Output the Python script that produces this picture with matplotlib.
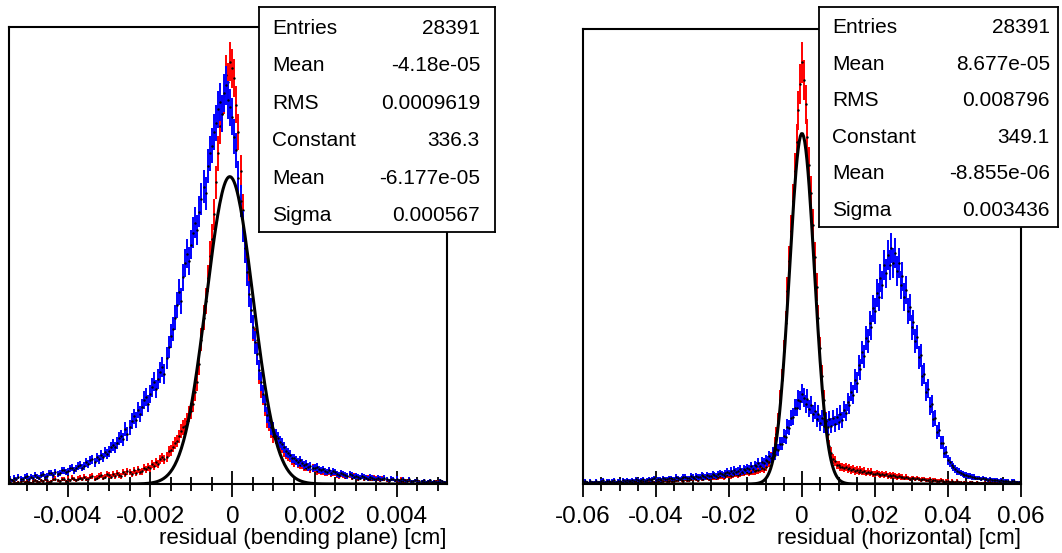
import numpy as np
import matplotlib
matplotlib.use('Agg')
import matplotlib.pyplot as plt
from matplotlib.ticker import FixedLocator, MultipleLocator

plt.rcParams['font.family'] = ['Liberation Sans', 'DejaVu Sans']

W, H = 1062, 553

# left panel: residual in the bending plane, bin centres from -0.0054 cm, step 5e-5 cm
bend_x0, bend_dx = -0.0054, 0.00005
bend_red = [2, 4, 3, 1, 2, 3, 4, 2, 3, 2, 1, 3, 4, 3, 2, 4, 3, 5, 4, 2,
            3, 5, 6, 4, 3, 5, 5, 3, 6, 4, 7, 5, 4, 6, 7, 5, 8, 6, 5, 8,
            9, 6, 7, 9, 10, 7, 8, 11, 10, 8, 11, 9, 12, 10, 9, 13, 11, 14, 13, 11,
            15, 12, 16, 13, 14, 18, 16, 19, 17, 22, 20, 24, 22, 27, 29, 27, 30, 36, 37, 41,
            45, 47, 52, 58, 62, 64, 69, 77, 80, 88, 101, 112, 131, 158, 182, 200, 225, 250, 268, 295,
            330, 362, 392, 405, 425, 448, 440, 462, 455, 444, 415, 385, 342, 300, 258, 240, 218, 190, 170, 158,
            143, 120, 104, 96, 84, 70, 66, 58, 52, 51, 48, 42, 40, 36, 33, 31, 29, 26, 24, 26,
            22, 21, 21, 18, 18, 19, 16, 18, 17, 14, 15, 13, 14, 12, 12, 14, 11, 12, 12, 10,
            9, 11, 10, 8, 9, 10, 7, 9, 8, 6, 7, 8, 6, 7, 7, 5, 5, 7, 6, 5,
            4, 6, 5, 4, 3, 5, 5, 4, 4, 3, 5, 3, 3, 4, 4, 2, 3, 4, 2, 3,
            3, 2, 2, 3, 3, 2, 1, 3, 3, 2, 2, 2, 2, 3]
bend_blue = [6, 4, 7, 5, 8, 6, 5, 8, 9, 6, 8, 7, 10, 8, 7, 10, 11, 8, 9, 12,
             12, 10, 13, 11, 12, 15, 15, 13, 14, 17, 18, 15, 17, 20, 21, 18, 20, 24, 22, 26,
             27, 24, 29, 27, 32, 29, 35, 33, 36, 40, 43, 40, 45, 50, 52, 49, 60, 55, 62, 69,
             74, 70, 81, 77, 84, 92, 95, 88, 98, 106, 112, 104, 115, 122, 128, 120, 138, 150, 162, 170,
             182, 196, 210, 200, 226, 242, 252, 244, 262, 275, 286, 278, 298, 312, 325, 318, 348, 362, 370, 385,
             395, 410, 418, 405, 428, 436, 420, 412, 402, 380, 365, 335, 310, 282, 258, 232, 208, 190, 172, 155,
             142, 125, 112, 98, 88, 76, 70, 62, 60, 53, 50, 46, 44, 40, 36, 34, 32, 28, 28, 26,
             24, 26, 23, 21, 22, 19, 20, 17, 18, 19, 16, 15, 16, 14, 13, 15, 12, 14, 13, 11,
             10, 12, 11, 10, 9, 11, 10, 8, 9, 8, 7, 9, 8, 7, 6, 8, 7, 6, 5, 7,
             6, 5, 7, 5, 4, 6, 5, 4, 6, 4, 3, 5, 4, 3, 5, 3, 3, 4, 4, 2,
             3, 4, 2, 3, 4, 2, 3, 2, 2, 4, 3, 2, 2, 3]
bend_constant, bend_mean, bend_sigma = 336.3, -6.177e-05, 0.000567
bend_stats = [("Entries", "28391"), ("Mean", "-4.18e-05"), ("RMS", "0.0009619"),
              ("Constant", "336.3"), ("Mean", "-6.177e-05"), ("Sigma", "0.000567")]
bend_ticks = [-0.004, -0.002, 0, 0.002, 0.004]
bend_ticklabels = ["-0.004", "-0.002", "0", "0.002", "0.004"]
bend_xlabel = "residual (bending plane) [cm]"

# right panel: horizontal residual, bin centres from -0.06 cm, step 5e-4 cm
horiz_x0, horiz_dx = -0.06, 0.0005
horiz_red = [1, 2, 1, 1, 2, 1, 1, 2, 2, 1, 1, 2, 1, 1, 2, 1, 1, 2, 2, 1,
             1, 2, 2, 2, 2, 1, 1, 2, 2, 3, 2, 2, 2, 3, 3, 2, 2, 3, 3, 2,
             2, 3, 3, 2, 3, 4, 3, 3, 4, 3, 3, 4, 4, 5, 4, 3, 5, 4, 4, 5,
             5, 6, 5, 4, 6, 5, 5, 7, 6, 5, 6, 7, 7, 6, 7, 8, 8, 7, 8, 9,
             9, 8, 9, 10, 10, 9, 10, 11, 11, 12, 12, 11, 12, 13, 13, 14, 14, 15, 16, 15,
             17, 21, 22, 27, 30, 40, 50, 63, 84, 104, 132, 160, 192, 222, 252, 282, 312, 340, 372, 398,
             420,
             402, 378, 345, 318, 290, 258, 226, 196, 165, 135, 108, 84, 64, 50, 38, 31, 25, 23, 19, 19,
             17, 17, 16, 17, 15, 16, 14, 15, 13, 14, 12, 14, 12, 13, 11, 12, 11, 12, 10, 10,
             11, 10, 9, 10, 9, 10, 8, 9, 8, 9, 8, 7, 8, 7, 7, 6, 7, 6, 5, 6,
             6, 5, 6, 5, 4, 5, 5, 4, 4, 5, 3, 4, 4, 3, 3, 4, 3, 2, 3, 3,
             2, 3, 2, 2, 3, 2, 2, 1, 2, 2, 1, 2, 2, 1, 1, 2, 1, 1, 1, 2,
             1, 1, 2, 1, 1, 1, 1, 2, 1, 1, 1, 1, 1, 1, 2, 1, 1, 1, 1, 1]
horiz_blue = [2, 3, 2, 1, 3, 2, 2, 3, 2, 2, 3, 4, 2, 3, 3, 2, 3, 4, 2, 3,
              3, 2, 4, 3, 4, 3, 3, 4, 3, 5, 4, 3, 4, 5, 3, 4, 5, 4, 5, 6,
              4, 5, 5, 4, 6, 5, 5, 6, 6, 5, 5, 7, 6, 5, 6, 7, 7, 6, 6, 8,
              7, 6, 8, 7, 7, 9, 8, 7, 9, 8, 8, 10, 9, 8, 10, 11, 10, 9, 11, 12,
              11, 13, 11, 14, 12, 13, 15, 12, 15, 14, 16, 15, 18, 15, 19, 18, 21, 18, 22, 21,
              24, 23, 28, 26, 31, 29, 35, 34, 40, 40, 48, 47, 57, 56, 66, 67, 76, 76, 84, 83,
              90,
              86, 80, 85, 75, 79, 70, 73, 65, 70, 61, 66, 58, 63, 57, 65, 58, 66, 60, 67, 62,
              70, 64, 74, 71, 82, 79, 92, 89, 104, 101, 118, 114, 131, 127, 145, 142, 160, 156, 175, 172,
              190, 186, 205, 198, 218, 210, 228, 218, 235, 220, 230, 212, 220, 198, 207, 186, 193, 172, 176, 156,
              161, 142, 146, 126, 128, 108, 110, 92, 95, 78, 80, 65, 66, 52, 54, 41, 41, 31, 32, 24,
              22, 19, 17, 15, 13, 12, 11, 10, 9, 9, 8, 8, 7, 7, 6, 6, 6, 5, 6, 5,
              5, 4, 5, 4, 4, 4, 4, 3, 4, 3, 3, 3, 3, 2, 3, 3, 2, 2, 2, 2]
horiz_constant, horiz_mean, horiz_sigma = 349.1, -8.855e-06, 0.003436
horiz_stats = [("Entries", "28391"), ("Mean", "8.677e-05"), ("RMS", "0.008796"),
               ("Constant", "349.1"), ("Mean", "-8.855e-06"), ("Sigma", "0.003436")]
horiz_ticks = [-0.06, -0.04, -0.02, 0, 0.02, 0.04, 0.06]
horiz_ticklabels = ["-0.06", "-0.04", "-0.02", "0", "0.02", "0.04", "0.06"]
horiz_xlabel = "residual (horizontal) [cm]"


def px_box(l, t, r, b):
    return [l / W, 1 - b / H, (r - l) / W, (b - t) / H]


def draw_panel(ax, x0, dx, red, blue, const, mean, sigma, xlim, ylim,
               ticks, ticklabels, minor, xlabel):
    x_red = x0 + dx * np.arange(len(red))
    x_blue = x0 + dx * np.arange(len(blue))
    red = np.array(red, float)
    blue = np.array(blue, float)
    ax.errorbar(x_red, red, yerr=np.sqrt(red), fmt='none', ecolor='#ff0000', elinewidth=1.4, zorder=2)
    ax.plot(x_red, red, 'k.', ms=1.5, zorder=2.1)
    ax.errorbar(x_blue, blue, yerr=np.sqrt(blue), fmt='none', ecolor='#0000ff', elinewidth=1.4, zorder=2.2)
    ax.plot(x_blue, blue, 'k.', ms=1.5, zorder=2.3)
    xf = np.linspace(xlim[0], xlim[1], 400)
    ax.plot(xf, const * np.exp(-0.5 * ((xf - mean) / sigma) ** 2), color='black', lw=2.2, zorder=3)
    ax.set_xlim(*xlim)
    ax.set_ylim(*ylim)
    ax.xaxis.set_major_locator(FixedLocator(ticks))
    ax.set_xticklabels(ticklabels)
    ax.xaxis.set_minor_locator(MultipleLocator(minor))
    ax.tick_params(axis='x', which='major', direction='inout', length=19, width=1.3,
                   labelsize=17.5, pad=6)
    ax.tick_params(axis='x', which='minor', direction='inout', length=9.5, width=1.3)
    ax.tick_params(axis='y', left=False, labelleft=False)
    for s in ax.spines.values():
        s.set_linewidth(1.5)
    ax.set_xlabel(xlabel, loc='right', fontsize=16, labelpad=0)


def draw_stats(fig, box, rows, label_x, value_x, base0, step):
    sax = fig.add_axes(px_box(*box))
    sax.set_xticks([])
    sax.set_yticks([])
    for s in sax.spines.values():
        s.set_linewidth(1.3)
    sax.set_zorder(10)
    for k, (name, val) in enumerate(rows):
        yb = 1 - (base0 + k * step) / H
        fig.text(label_x / W, yb, name, fontsize=15, va='baseline', ha='left', zorder=11)
        fig.text(value_x / W, yb, val, fontsize=15, va='baseline', ha='right', zorder=11)


fig = plt.figure(figsize=(W / 100, H / 100), dpi=100)

ax1 = fig.add_axes(px_box(9, 27, 447, 484))
draw_panel(ax1, bend_x0, bend_dx, bend_red, bend_blue, bend_constant, bend_mean, bend_sigma,
           (-0.00543, 0.00522), (0, 500), bend_ticks, bend_ticklabels, 0.0005, bend_xlabel)

ax2 = fig.add_axes(px_box(583, 29, 1021, 484))
draw_panel(ax2, horiz_x0, horiz_dx, horiz_red, horiz_blue, horiz_constant, horiz_mean, horiz_sigma,
           (-0.06, 0.06), (0, 453), horiz_ticks, horiz_ticklabels, 0.005, horiz_xlabel)

draw_stats(fig, (259, 7, 495, 232), bend_stats, 272, 480, 34, 37.4)
draw_stats(fig, (819, 7, 1058, 227), horiz_stats, 832, 1050, 33, 36.6)

fig.savefig('out.png', dpi=100)
